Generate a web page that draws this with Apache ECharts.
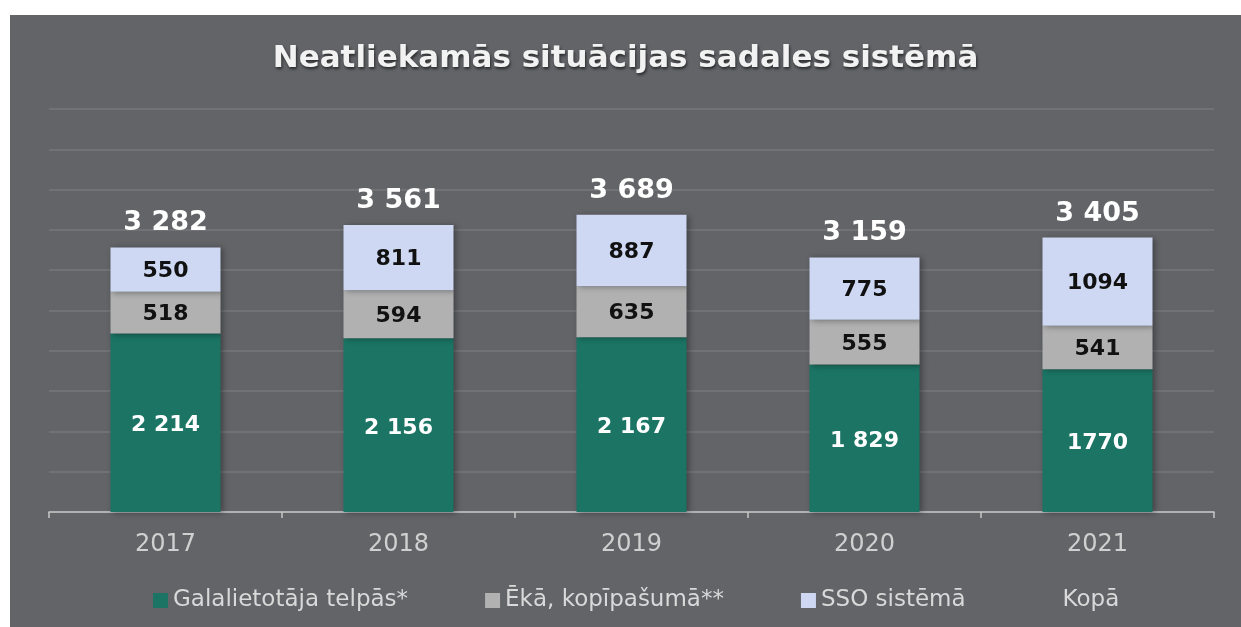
<!DOCTYPE html>
<html>
<head>
<meta charset="utf-8">
<script src="https://cdn.jsdelivr.net/npm/echarts@6/dist/echarts.min.js"></script>
<style>
    html, body { margin: 0; padding: 0; background: #fff; }
    #chart { position: absolute; left: 10px; top: 15px; width: 1231px; height: 612px; }
</style>
</head>
<body>
<div id="chart"></div>
<script>
// dati
var years = ['2017', '2018', '2019', '2020', '2021'];
var galalietotaja = [2214, 2156, 2167, 1829, 1770];
var eka = [518, 594, 635, 555, 541];
var sso = [550, 811, 887, 775, 1094];
var kopa = [3282, 3561, 3689, 3159, 3405];

// "2 214" formāts
function spaced(v) {
    return String(v).replace(/\B(?=(\d{3})+(?!\d))/g, ' ');
}

var myChart = echarts.init(document.getElementById('chart'));

var barShadow = {
    shadowBlur: 6,
    shadowColor: 'rgba(0,0,0,0.35)',
    shadowOffsetX: 2,
    shadowOffsetY: 1
};

var option = {
    backgroundColor: '#636468',
    animation: false,
    title: {
        text: 'Neatliekamās situācijas sadales sistēmā',
        left: 'center',
        top: 23,
        textStyle: {
            color: '#f2f2f2',
            fontFamily: 'DejaVu Sans',
            fontWeight: 'bold',
            fontSize: 31,
            textShadowColor: 'rgba(0,0,0,0.6)',
            textShadowBlur: 3,
            textShadowOffsetX: 1,
            textShadowOffsetY: 2
        }
    },
    legend: {
        left: 138,
        top: 569,
        itemWidth: 15,
        itemHeight: 15,
        itemGap: 77,
        icon: 'rect',
        textStyle: { color: '#d9d9d9', fontSize: 23, fontFamily: 'DejaVu Sans' },
        data: [
            'Galalietotāja telpās*',
            'Ēkā, kopīpašumā**',
            'SSO sistēmā',
            { name: 'Kopā', itemStyle: { opacity: 0 } }
        ]
    },
    grid: {
        left: 39,
        right: 27,
        top: 94,
        bottom: 115
    },
    xAxis: {
        type: 'category',
        data: years,
        axisLine: { lineStyle: { color: '#c8c8c8', width: 1.5 } },
        axisTick: { show: true, length: 6, lineStyle: { color: '#c8c8c8', width: 1.5 } },
        axisLabel: { color: '#d0d0d0', fontSize: 24, fontFamily: 'DejaVu Sans', margin: 21 }
    },
    yAxis: {
        type: 'value',
        min: 0,
        max: 5000,
        interval: 500,
        axisLabel: { show: false },
        axisLine: { show: false },
        axisTick: { show: false },
        splitLine: { lineStyle: { color: '#76777b', width: 1.5 } }
    },
    series: [
        {
            name: 'Galalietotāja telpās*',
            type: 'bar',
            stack: 'kopa',
            barWidth: 110,
            data: galalietotaja,
            itemStyle: Object.assign({ color: '#1b7464' }, barShadow),
            label: {
                show: true,
                color: '#ffffff',
                fontSize: 22,
                fontWeight: 'bold',
                fontFamily: 'DejaVu Sans',
                offset: [0, 3],
                formatter: function (p) {
                    return p.dataIndex === 4 ? String(p.value) : spaced(p.value);
                }
            }
        },
        {
            name: 'Ēkā, kopīpašumā**',
            type: 'bar',
            stack: 'kopa',
            data: eka,
            itemStyle: Object.assign({ color: '#b1b1b1' }, barShadow),
            label: {
                show: true,
                color: '#111111',
                fontSize: 22,
                fontWeight: 'bold',
                fontFamily: 'DejaVu Sans',
                offset: [0, 2]
            }
        },
        {
            name: 'SSO sistēmā',
            type: 'bar',
            stack: 'kopa',
            data: sso,
            itemStyle: Object.assign({ color: '#ced8f3' }, barShadow),
            label: {
                show: true,
                color: '#111111',
                fontSize: 22,
                fontWeight: 'bold',
                fontFamily: 'DejaVu Sans',
                offset: [0, 2]
            }
        },
        {
            name: 'Kopā',
            type: 'line',
            data: kopa,
            symbol: 'circle',
            symbolSize: 1,
            showSymbol: true,
            lineStyle: { opacity: 0, width: 0 },
            itemStyle: { color: 'rgba(0,0,0,0)' },
            z: 5,
            label: {
                show: true,
                position: 'top',
                distance: 10,
                color: '#ffffff',
                fontSize: 27,
                fontWeight: 'bold',
                fontFamily: 'DejaVu Sans',
                formatter: function (p) { return spaced(p.value); }
            }
        }
    ]
};

myChart.setOption(option);
</script>
</body>
</html>
